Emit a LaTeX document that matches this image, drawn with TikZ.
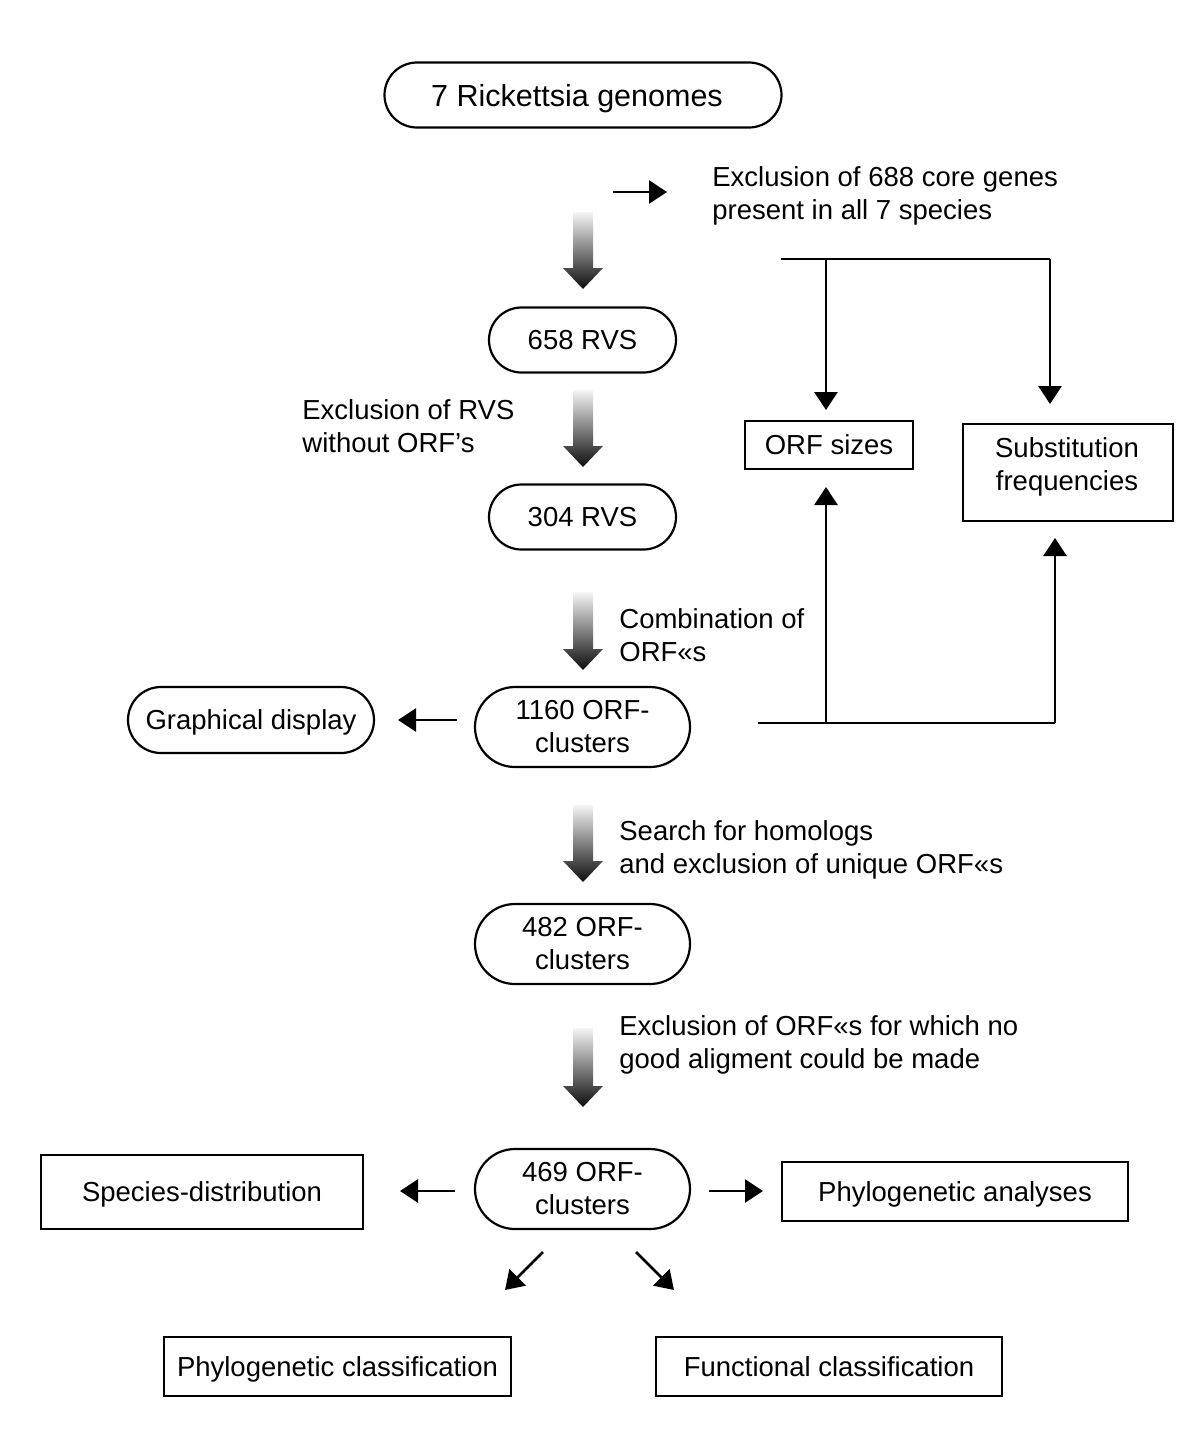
\documentclass[tikz,border=0pt]{standalone}
\usepackage{fontspec}
\setmainfont{Liberation Sans}
\usetikzlibrary{shapes.misc,arrows.meta}
\begin{document}
\begin{tikzpicture}[x=0.5pt,y=-0.5pt,
  every node/.style={font=\fontsize{13.75}{16.5}\selectfont},
  rbox/.style={draw, line width=1.1pt, rounded rectangle, inner sep=0pt, align=center},
  sbox/.style={draw, line width=0.8pt, rectangle, inner sep=0pt, align=center},
  one/.style={text height=12.8pt, text depth=3pt},
  lbl/.style={anchor=west, align=left, inner sep=0pt},
  arr/.style={line width=1.3pt, -{Triangle[length=9pt,width=11.5pt]}},
  ln/.style={line width=1.3pt}
]
\useasboundingbox (0,0) rectangle (1200,1453);
\newcommand\gradarrow[3]{% x, top, tip
  \shade[top color=black!4, bottom color=black!95]
    (#1-10,#2) -- (#1+10,#2) -- (#1+10,#3-21) -- (#1+20,#3-21) -- (#1,#3)
    -- (#1-20,#3-21) -- (#1-10,#3-21) -- cycle;}

% main column
\node[rbox, minimum width=198.5pt, minimum height=32.5pt, font=\fontsize{15.25}{18}\selectfont, text height=14pt, text depth=3pt] (genomes) at (583,95) {\hspace*{-6pt}7 Rickettsia genomes};
\node[rbox, one, minimum width=93.5pt, minimum height=32.5pt] (rvs658) at (582.5,340) {658 RVS};
\node[rbox, one, minimum width=93.5pt, minimum height=32.5pt] (rvs304) at (582.5,517) {304 RVS};
\node[rbox, minimum width=107.5pt, minimum height=40pt] (orf1160) at (582.5,727) {1160 ORF-\\clusters};
\node[rbox, minimum width=107.5pt, minimum height=40pt] (orf482) at (582.5,944) {482 ORF-\\clusters};
\node[rbox, minimum width=107.5pt, minimum height=40pt] (orf469) at (582.5,1189) {469 ORF-\\clusters};
\node[rbox, one, minimum width=123pt, minimum height=33pt] (graph) at (251,720) {Graphical display};

% side boxes
\node[sbox, one, minimum width=84pt, minimum height=24pt] (sizes) at (829,445) {ORF sizes};
\node[sbox, minimum width=105pt, minimum height=48.5pt] (subst) at (1068,472.5) {};
\node[align=center, inner sep=0pt] (substtext) at (1067,466.5) {Substitution\\frequencies};
\node[sbox, one, minimum width=161pt, minimum height=37pt] (species) at (202,1192) {Species-distribution};
\node[sbox, one, minimum width=173pt, minimum height=29.5pt] (phyan) at (955,1191.5) {Phylogenetic analyses};
\node[sbox, one, minimum width=173.5pt, minimum height=29.5pt] (phycl) at (337.5,1366.5) {Phylogenetic classification};
\node[sbox, one, minimum width=173pt, minimum height=29.5pt] (funcl) at (829,1366.5) {Functional classification};

% labels
\node[lbl] (l1) at (712,196) {Exclusion of 688 core genes\\present in all 7 species};
\node[lbl] (l2) at (302,426) {Exclusion of RVS\\without ORF’s};
\node[lbl] (l3) at (619,635) {Combination of\\ORF«s};
\node[lbl] (l4) at (619,850) {Search for homologs\\and exclusion of unique ORF«s};
\node[lbl] (l5) at (619,1045) {Exclusion of ORF«s for which no\\good aligment could be made};

% gradient arrows
\gradarrow{583}{212}{289}
\gradarrow{583}{390}{467}
\gradarrow{583}{592}{670}
\gradarrow{583}{805}{882}
\gradarrow{583}{1028}{1107}

% coordinates for free ends
\coordinate (ex0) at (613,192);
\coordinate (ex1) at (667,192);
\coordinate (g0) at (457,720);
\coordinate (g1) at (398,720);
\coordinate (s0) at (455,1191);
\coordinate (s1) at (400,1191);
\coordinate (p0) at (709,1191);
\coordinate (p1) at (763,1191);
\coordinate (d0) at (543,1252);
\coordinate (d1) at (505,1290);
\coordinate (e0) at (636,1252);
\coordinate (e1) at (674,1290);
\coordinate (ta) at (781,259);
\coordinate (tb) at (826,259);
\coordinate (tc) at (1050,259);
\coordinate (ta1) at (826,410);
\coordinate (tc1) at (1050,404);
\coordinate (ba) at (758,723);
\coordinate (bb) at (826,723);
\coordinate (bc) at (1055,723);
\coordinate (bb1) at (826,487);
\coordinate (bc1) at (1055,538);

\draw[arr] (ex0) -- (ex1);
\draw[arr] (g0) -- (g1);
\draw[arr] (s0) -- (s1);
\draw[arr] (p0) -- (p1);
\draw[arr] (d0) -- (d1);
\draw[arr] (e0) -- (e1);

\draw[ln] (ta) -- (tc);
\draw[arr] (tb) -- (ta1);
\draw[arr] (tc) -- (tc1);
\draw[ln] (ba) -- (bc);
\draw[arr] (bb) -- (bb1);
\draw[arr] (bc) -- (bc1);
\end{tikzpicture}
\end{document}
